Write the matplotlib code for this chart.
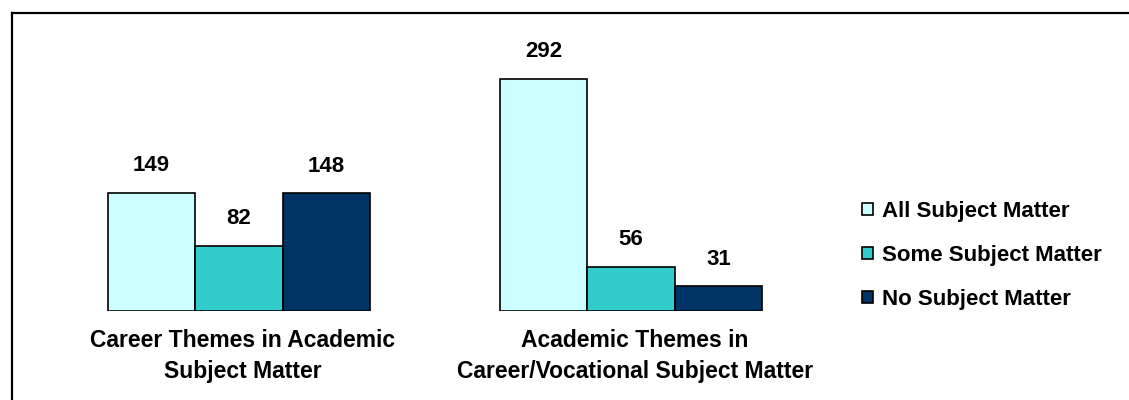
import numpy as np
import matplotlib.pyplot as plt
from matplotlib.lines import Line2D

plt.rcParams['font.family'] = ['Liberation Sans', 'DejaVu Sans']
plt.rcParams['font.weight'] = 'bold'

# data
categories = ['Career Themes in Academic\nSubject Matter',
              'Academic Themes in\nCareer/Vocational Subject Matter']
series = ['All Subject Matter', 'Some Subject Matter', 'No Subject Matter']
all_vals = [149, 292]
some_vals = [82, 56]
none_vals = [148, 31]
colors = ['#CCFFFF', '#33CCCC', '#003366']

W, H = 1129, 400
fig = plt.figure(figsize=(W / 100, H / 100), dpi=100)

# plot area in pixels: x 43..827, baseline at y=311
ax = fig.add_axes([43 / W, (H - 311) / H, 784 / W, 278 / H])
x = np.arange(len(categories))
bw = 0.223
for i, (vals, col, name) in enumerate(zip([all_vals, some_vals, none_vals], colors, series)):
    bars = ax.bar(x + (i - 1) * bw, vals, bw, color=col, edgecolor='black',
                  linewidth=1.2, label=name)
    for b, v in zip(bars, vals):
        ax.annotate(str(v), (b.get_x() + b.get_width() / 2, v), xytext=(0, 19.5),
                    textcoords='offset points', ha='center', va='center',
                    fontsize=16, fontweight='bold')

ax.set_xlim(-0.5, 1.5)
ax.set_ylim(0, 350)
ax.set_yticks([])
ax.set_xticks(x + 0.01)
ax.set_xticklabels(categories, fontsize=16.5, fontweight='bold')
for lbl in ax.get_xticklabels():
    lbl.set_linespacing(1.45)
ax.tick_params(axis='x', length=0, pad=13)
for s in ax.spines.values():
    s.set_visible(False)

leg = ax.legend(loc='center left', bbox_to_anchor=(853 / 784 - 43 / 784, 0.2), frameon=False,
                fontsize=16, handlelength=0.5, handleheight=0.5, handletextpad=0.4,
                labelspacing=1.04, borderaxespad=0)
for t in leg.get_texts():
    t.set_fontweight('bold')

# outer border (top and left visible)
fig.add_artist(Line2D([11.5 / W, 11.5 / W], [0, 1 - 13 / H], color='black', lw=1.6,
                      transform=fig.transFigure))
fig.add_artist(Line2D([11.5 / W, 1], [1 - 13 / H, 1 - 13 / H], color='black', lw=1.6,
                      transform=fig.transFigure))

fig.savefig('out.png', dpi=100)
